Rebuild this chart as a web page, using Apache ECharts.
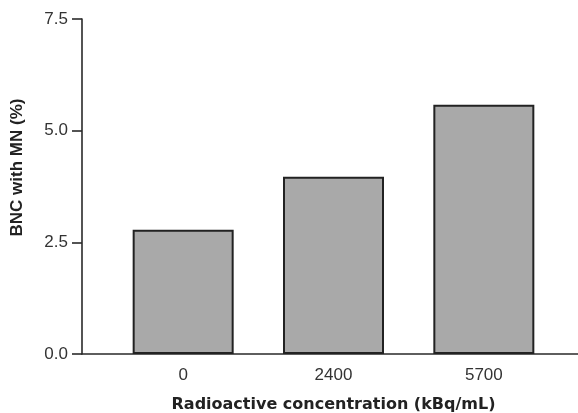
<!DOCTYPE html>
<html>
<head>
<meta charset="utf-8">
<script src="https://cdn.jsdelivr.net/npm/echarts@6/dist/echarts.min.js"></script>
<style>
  html, body { margin: 0; padding: 0; background: #ffffff; }
  #chart { width: 578px; height: 413px; }
</style>
</head>
<body>
<div id="chart"></div>
<script>
// Radioactive concentration groups (kBq/mL) and binucleated cells with micronuclei (%)
const categories = ['0', '2400', '5700'];
const bncWithMN = [2.78, 3.97, 5.58];
const yTicks = [0, 2.5, 5, 7.5];

const axisColor = '#2a2a2a';
const textColor = '#333333';
const fontFamily = 'Liberation Sans, Arial, sans-serif';

const chart = echarts.init(document.getElementById('chart'));

chart.setOption({
  backgroundColor: '#ffffff',
  animation: false,
  grid: [
    // frame grid carrying the axis lines
    { left: 82, right: 0, top: 19, bottom: 59, outerBoundsMode: 'none', containLabel: false },
    // bar grid, inset so the three categories sit under the frame
    { left: 108, width: 451, top: 19, bottom: 59, outerBoundsMode: 'none', containLabel: false }
  ],
  xAxis: [
    {
      gridIndex: 0,
      type: 'value',
      min: 0,
      max: 1,
      axisLine: { show: true, lineStyle: { color: axisColor, width: 1.6 } },
      axisTick: { show: false },
      axisLabel: { show: false },
      splitLine: { show: false }
    },
    {
      gridIndex: 1,
      type: 'category',
      data: categories,
      axisLine: { show: false },
      axisTick: { show: false },
      axisLabel: {
        color: textColor,
        fontSize: 17,
        fontFamily: fontFamily,
        margin: 13
      },
      name: 'Radioactive concentration (kBq/mL)',
      nameLocation: 'middle',
      nameGap: 43,
      nameTextStyle: {
        color: '#222222',
        fontSize: 16,
        fontWeight: 'bold',
        fontFamily: 'DejaVu Sans, sans-serif'
      }
    }
  ],
  yAxis: [
    {
      gridIndex: 0,
      type: 'value',
      min: yTicks[0],
      max: yTicks[yTicks.length - 1],
      interval: 2.5,
      axisLine: { show: true, lineStyle: { color: axisColor, width: 1.6 } },
      axisTick: { show: true, length: 10, lineStyle: { color: axisColor, width: 1.6 } },
      axisLabel: {
        color: textColor,
        fontSize: 17,
        fontFamily: fontFamily,
        margin: 14,
        formatter: v => v.toFixed(1)
      },
      splitLine: { show: false },
      name: 'BNC with MN (%)',
      nameLocation: 'middle',
      nameGap: 56,
      nameTextStyle: {
        color: '#222222',
        fontSize: 17,
        fontWeight: 'bold',
        fontFamily: fontFamily,
        padding: [0, 0, 0, 38]
      }
    },
    {
      gridIndex: 1,
      type: 'value',
      min: yTicks[0],
      max: yTicks[yTicks.length - 1],
      show: false
    }
  ],
  series: [
    {
      type: 'bar',
      xAxisIndex: 1,
      yAxisIndex: 1,
      data: bncWithMN,
      barWidth: 101,
      itemStyle: {
        color: '#a9a9a9',
        borderColor: '#222222',
        borderWidth: 2
      }
    }
  ]
});
</script>
</body>
</html>
